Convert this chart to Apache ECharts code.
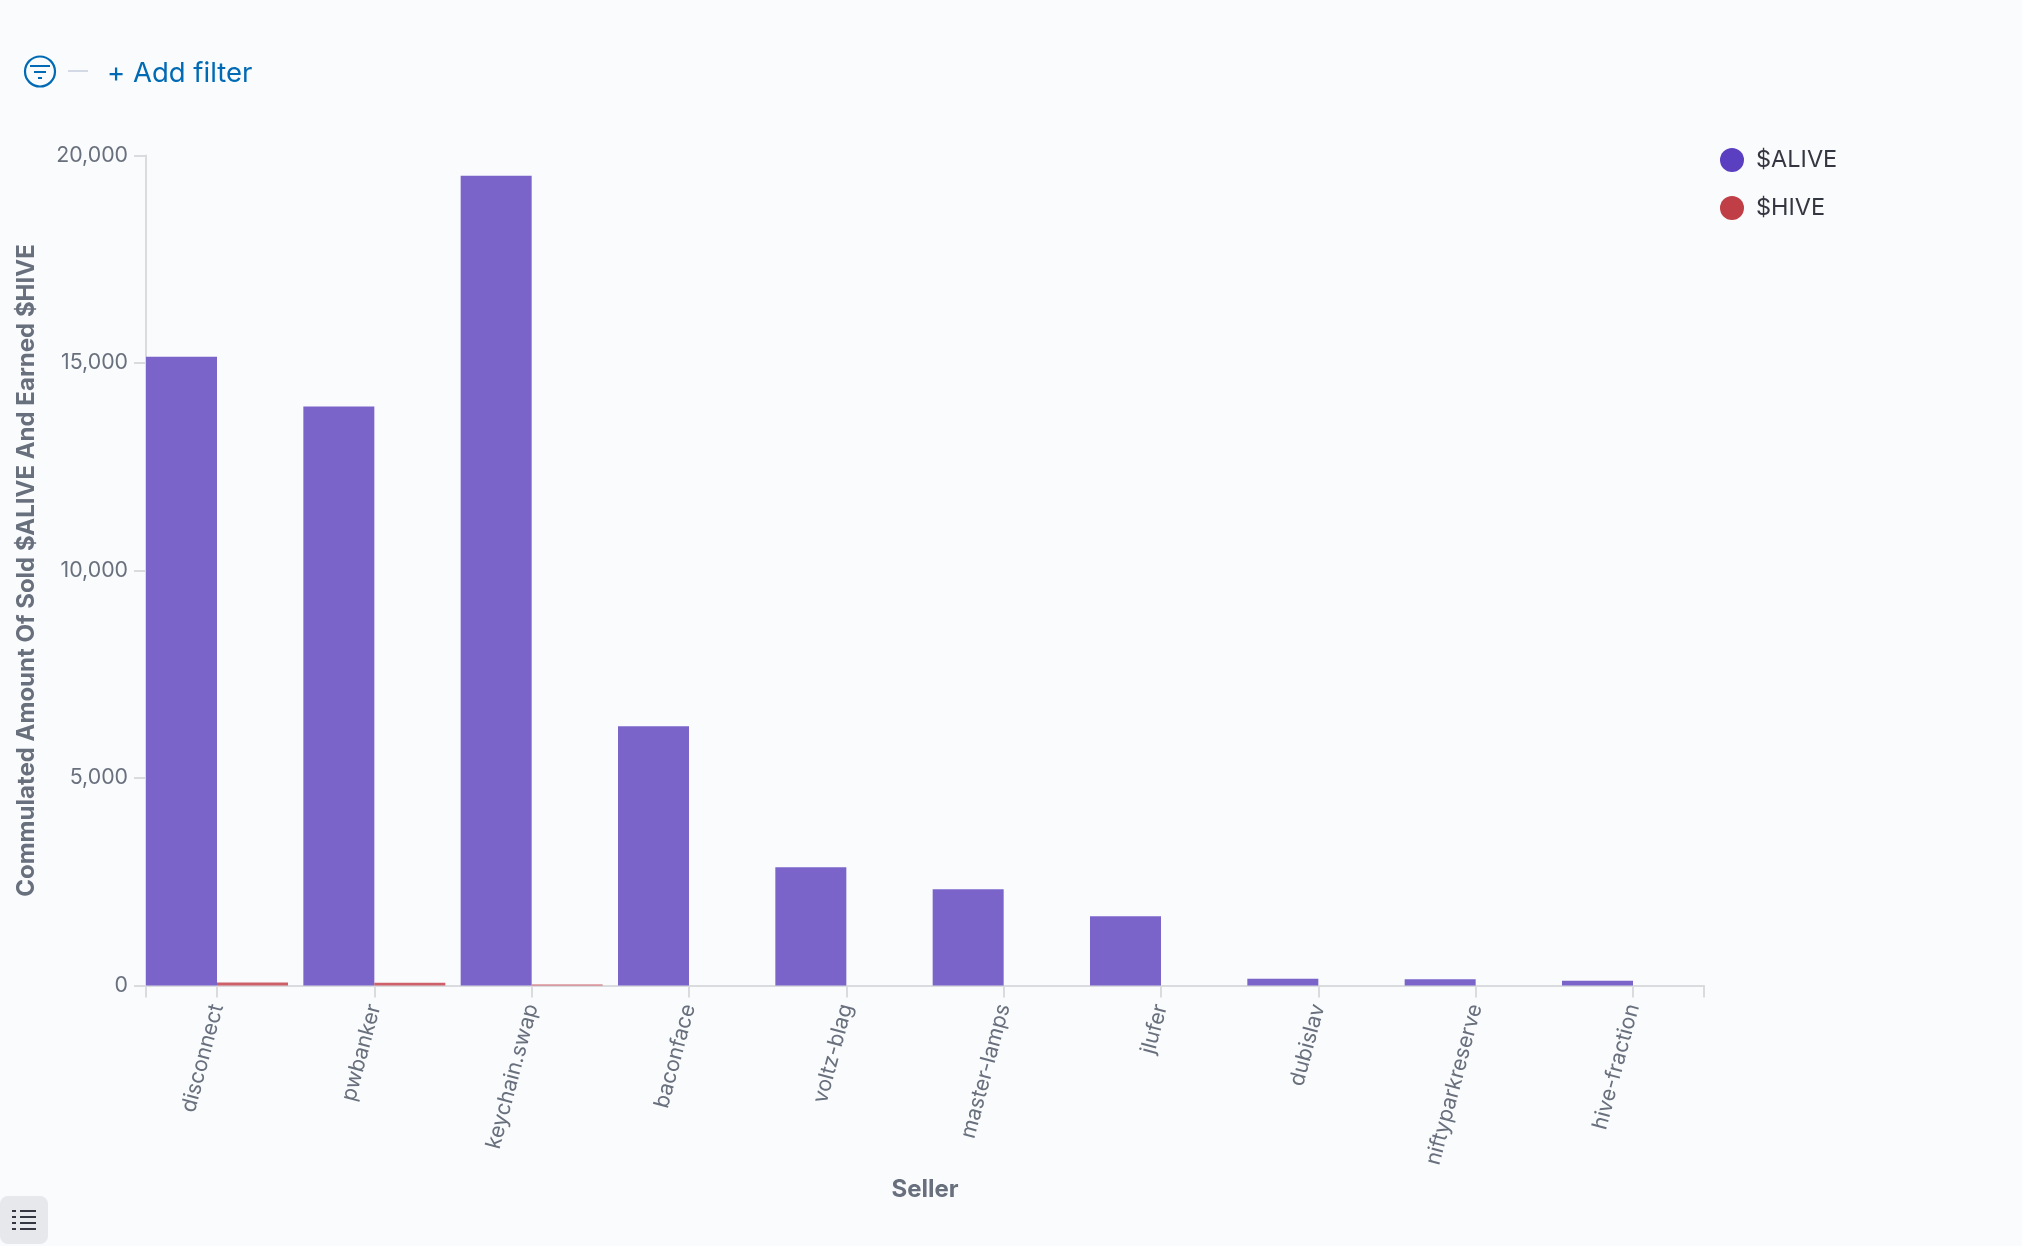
<!DOCTYPE html>
<html>
<head>
<meta charset="utf-8" />
<title>Seller chart</title>
<script src="https://cdn.jsdelivr.net/npm/echarts@6/dist/echarts.min.js"></script>
<style>
html, body { margin: 0; padding: 0; background: #fafbfd; }
#chart { width: 2022px; height: 1246px; }
</style>
</head>
<body>
<div id="chart"></div>
<script>
var sellers = ["disconnect", "pwbanker", "keychain.swap", "baconface", "voltz-blag", "master-lamps", "jlufer", "dubislav", "niftyparkreserve", "hive-fraction"];
var aliveValues = [15150, 13950, 19510, 6250, 2850, 2320, 1670, 160, 150, 113];
var hiveValues = [72, 65, 25, 0, 0, 0, 0, 0, 0, 0];
var yTicks = [0, 5000, 10000, 15000, 20000];

var FONT = "Inter";
var edge = 0.4513; // first and last band are cut at the axis ends
var xMin = -edge;
var xMax = sellers.length - 1 + edge;
var positions = sellers.map(function (s, i) { return i; });

function pairs(values) {
  return values.map(function (v, i) { return [i, v]; });
}

var chart = echarts.init(document.getElementById("chart"));
var option = {
  backgroundColor: "#fafbfd",
  animation: false,
  textStyle: { fontFamily: FONT },
  grid: { left: 146, top: 155.5, width: 1558, height: 830, containLabel: false },
  legend: {
    orient: "vertical",
    left: 1715,
    top: 143,
    itemWidth: 24,
    itemHeight: 24,
    itemGap: 24,
    icon: "circle",
    selectedMode: false,
    textStyle: { fontFamily: FONT, fontSize: 23.5, color: "#343741", padding: [0, 0, 0, 7] },
    data: [
      { name: "$ALIVE", itemStyle: { color: "#5a3fc0" } },
      { name: "$HIVE", itemStyle: { color: "#c03f47" } },
    ],
  },
  xAxis: {
    type: "value",
    min: xMin,
    max: xMax,
    name: "Seller",
    nameLocation: "middle",
    nameGap: 192,
    nameTextStyle: { fontFamily: FONT, fontSize: 24, fontWeight: "bold", color: "#69707d" },
    splitLine: { show: false },
    axisLine: { show: true, lineStyle: { color: "#d9dbdf", width: 2 } },
    axisTick: {
      show: true,
      length: 12,
      lineStyle: { color: "#d9dbdf", width: 2 },
      customValues: [xMin].concat(positions, [xMax]),
    },
    axisLabel: {
      rotate: 75,
      margin: 19,
      fontFamily: FONT,
      fontSize: 21.3,
      color: "#69707d",
      customValues: positions,
      formatter: function (v) { return sellers[v]; },
    },
  },
  yAxis: {
    type: "value",
    min: 0,
    max: 20000,
    interval: 5000,
    name: "Commulated Amount Of Sold $ALIVE And Earned $HIVE",
    nameLocation: "middle",
    nameGap: 107,
    nameTextStyle: { fontFamily: FONT, fontSize: 24, fontWeight: "bold", color: "#69707d" },
    splitLine: { show: false },
    axisLine: { show: true, onZero: false, lineStyle: { color: "#d9dbdf", width: 2 } },
    axisTick: { show: true, length: 12, lineStyle: { color: "#d9dbdf", width: 2 } },
    axisLabel: {
      margin: 18,
      fontFamily: FONT,
      fontSize: 21.3,
      color: "#69707d",
      padding: [4, 0, 0, 0],
      customValues: yTicks,
      formatter: function (v) { return v.toLocaleString("en-US"); },
    },
  },
  series: [
    {
      name: "$ALIVE",
      type: "bar",
      barWidth: 71,
      barGap: 0,
      itemStyle: { color: "#7a64ca" },
      data: pairs(aliveValues),
    },
    {
      name: "$HIVE",
      type: "bar",
      barWidth: 71,
      barGap: 0,
      itemStyle: { color: "#cd6068" },
      data: pairs(hiveValues),
    },
  ],
  graphic: [
    // filter bar
    { type: "circle", shape: { cx: 40, cy: 71.5, r: 15 }, style: { fill: "none", stroke: "#006bb4", lineWidth: 2.2 } },
    { type: "line", shape: { x1: 30, y1: 66, x2: 50, y2: 66 }, style: { stroke: "#006bb4", lineWidth: 2 } },
    { type: "line", shape: { x1: 34, y1: 72, x2: 46, y2: 72 }, style: { stroke: "#006bb4", lineWidth: 2 } },
    { type: "line", shape: { x1: 38, y1: 78, x2: 42, y2: 78 }, style: { stroke: "#006bb4", lineWidth: 2 } },
    { type: "line", shape: { x1: 68, y1: 71, x2: 88, y2: 71 }, style: { stroke: "#d3dae6", lineWidth: 2 } },
    {
      type: "text",
      x: 107,
      y: 74,
      style: { text: "+ Add filter", fontFamily: FONT, fontSize: 27.5, fill: "#006bb4", textVerticalAlign: "middle" },
    },
    // legend toggle
    { type: "rect", shape: { x: 0, y: 1196, width: 48, height: 48, r: 8 }, style: { fill: "#e7e8eb" } },
    { type: "rect", shape: { x: 12, y: 1210, width: 4, height: 2 }, style: { fill: "#343741" } },
    { type: "rect", shape: { x: 12, y: 1216, width: 4, height: 2 }, style: { fill: "#343741" } },
    { type: "rect", shape: { x: 12, y: 1222, width: 4, height: 2 }, style: { fill: "#343741" } },
    { type: "rect", shape: { x: 12, y: 1228, width: 4, height: 2 }, style: { fill: "#343741" } },
    { type: "rect", shape: { x: 20, y: 1210, width: 16, height: 2 }, style: { fill: "#343741" } },
    { type: "rect", shape: { x: 20, y: 1216, width: 16, height: 2 }, style: { fill: "#343741" } },
    { type: "rect", shape: { x: 20, y: 1222, width: 16, height: 2 }, style: { fill: "#343741" } },
    { type: "rect", shape: { x: 20, y: 1228, width: 16, height: 2 }, style: { fill: "#343741" } },
  ],
};
option && chart.setOption(option);
</script>
</body>
</html>
